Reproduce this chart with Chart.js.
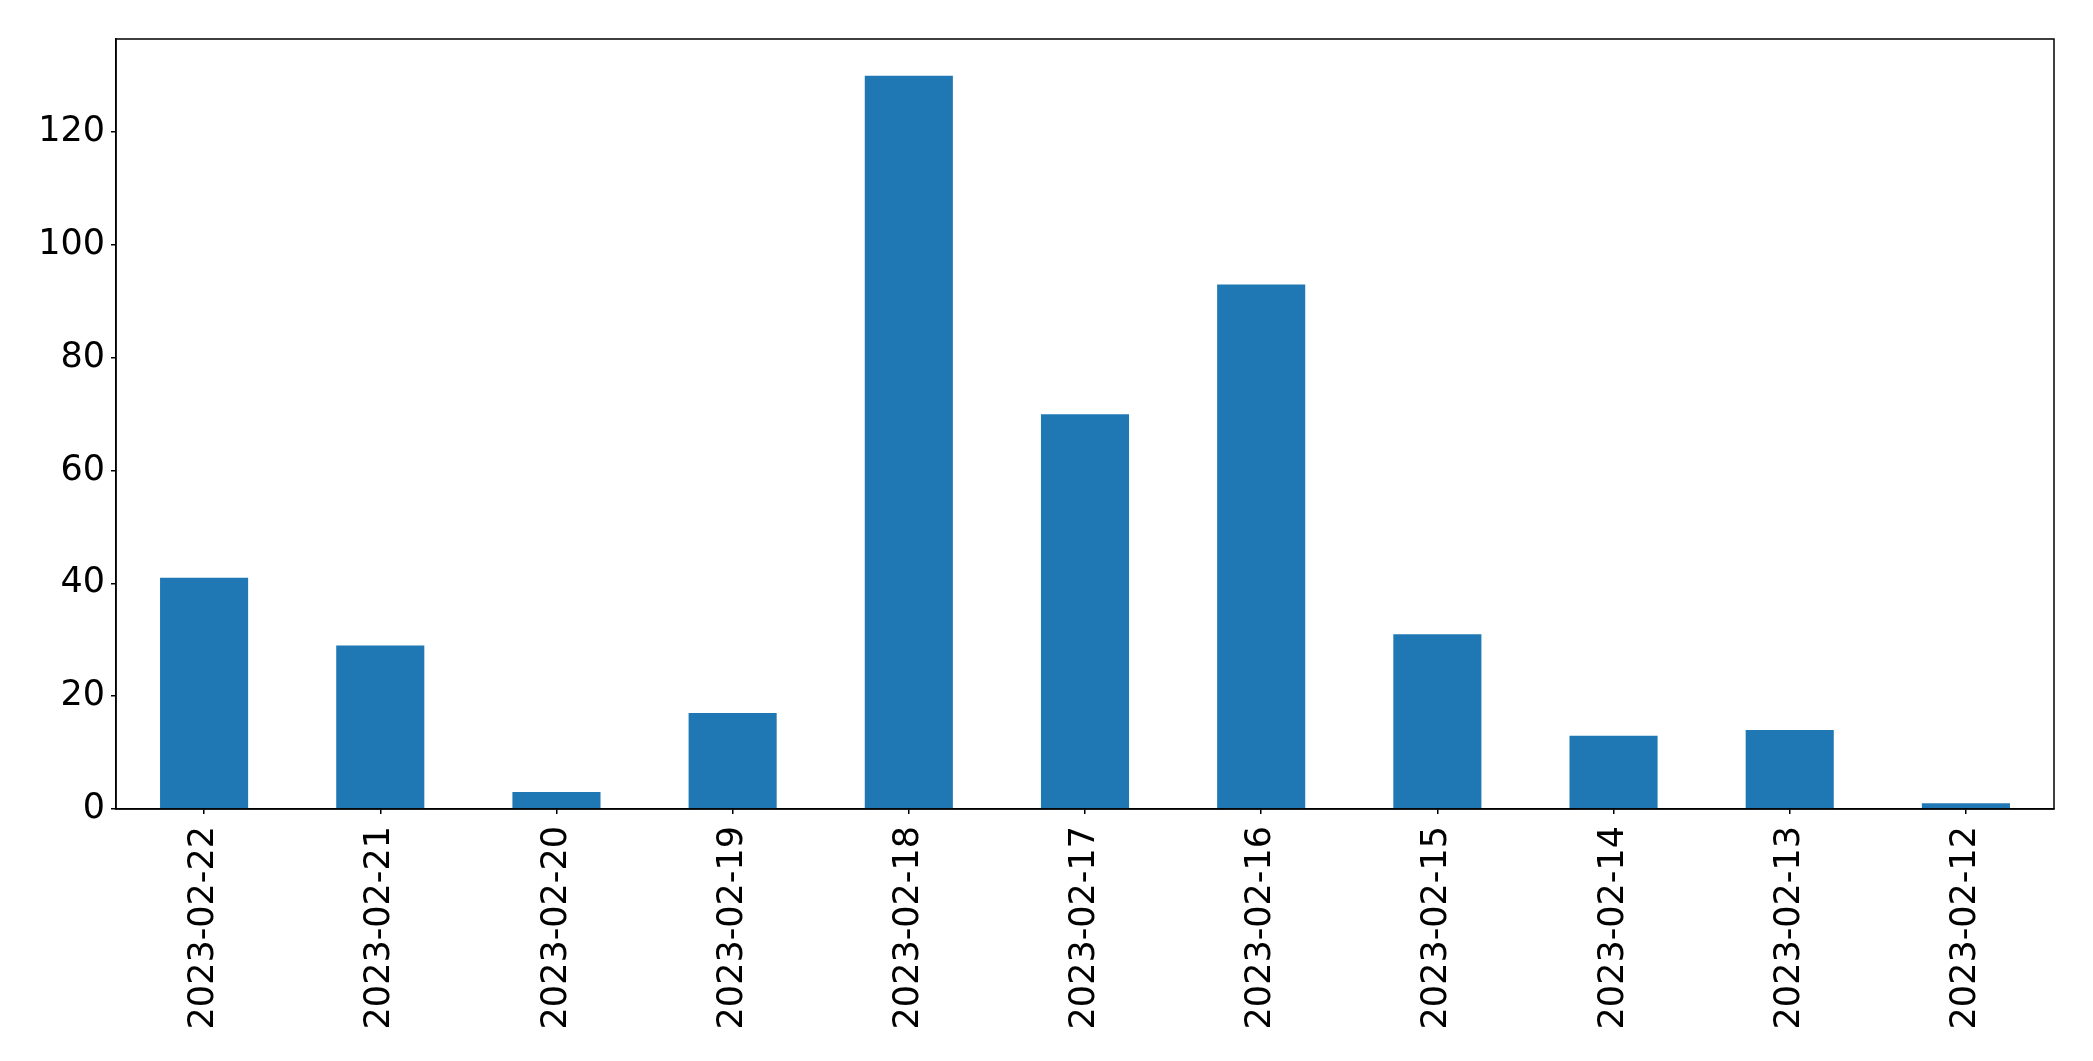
<!DOCTYPE html>
<html lang="en">
<head>
    <meta charset="UTF-8">
    <title>Daily counts</title>
    <script src="https://cdn.jsdelivr.net/npm/chart.js"></script>
    <style>
        html, body { margin: 0; padding: 0; background: #fff; }
        #barCanvas { display: block; }
    </style>
</head>
<body>
    <canvas id="barCanvas" width="2093" height="1061"></canvas>
    <script>
        var dates = ['2023-02-22', '2023-02-21', '2023-02-20', '2023-02-19', '2023-02-18', '2023-02-17',
                     '2023-02-16', '2023-02-15', '2023-02-14', '2023-02-13', '2023-02-12'];
        var counts = [41, 29, 3, 17, 130, 70, 93, 31, 13, 14, 1];
        var yTicks = [0, 20, 40, 60, 80, 100, 120];
        var yMax = 136.5;

        // black box round the plot, like a matplotlib axes frame
        var frame = {
            id: 'frame',
            afterDraw: function (chart) {
                var a = chart.chartArea;
                var ctx = chart.ctx;
                ctx.save();
                ctx.strokeStyle = '#000';
                ctx.lineWidth = 1.5;
                ctx.strokeRect(a.left, a.top, a.right - a.left, a.bottom - a.top);
                ctx.restore();
            }
        };

        var font = { family: 'DejaVu Sans', size: 35 };

        new Chart(document.getElementById('barCanvas').getContext('2d'), {
            type: 'bar',
            data: {
                labels: dates,
                datasets: [{
                    data: counts,
                    backgroundColor: '#1f77b4',
                    barPercentage: 0.5,
                    categoryPercentage: 1.0
                }]
            },
            options: {
                responsive: false,
                animation: false,
                layout: { padding: { top: 39, right: 39, left: 0, bottom: 0 } },
                plugins: {
                    legend: { display: false },
                    tooltip: { enabled: false }
                },
                scales: {
                    x: {
                        grid: { display: true, offset: false, drawOnChartArea: false, drawTicks: true, tickLength: 5, color: '#000', lineWidth: 1.5 },
                        border: { display: true, color: '#000', width: 1.5 },
                        ticks: { color: '#000', font: font, minRotation: 90, maxRotation: 90, padding: 12, autoSkip: false },
                        afterFit: function (scale) { scale.height = 252; }
                    },
                    y: {
                        min: 0,
                        max: yMax,
                        grid: { display: true, drawOnChartArea: false, drawTicks: true, tickLength: 5, color: '#000', lineWidth: 1.5 },
                        border: { display: true, color: '#000', width: 1.5 },
                        ticks: { color: '#000', font: font, padding: 6, stepSize: 20 },
                        afterBuildTicks: function (scale) {
                            scale.ticks = yTicks.map(function (v) { return { value: v }; });
                        },
                        afterFit: function (scale) { scale.width = 116; }
                    }
                }
            },
            plugins: [frame]
        });
    </script>
</body>
</html>
